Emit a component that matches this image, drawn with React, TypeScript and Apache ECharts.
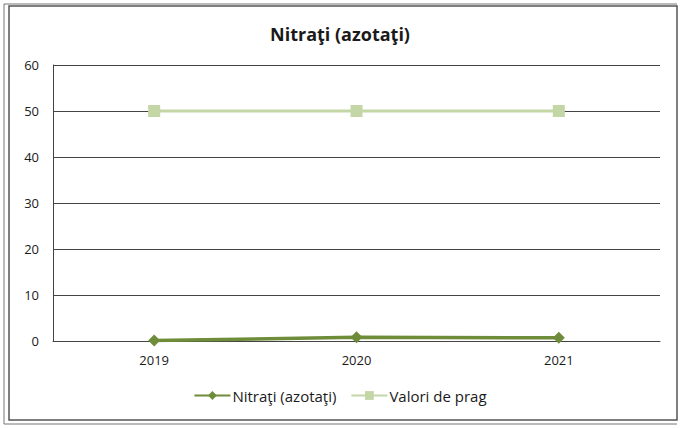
import React, { useEffect, useRef } from "react";
import * as echarts from "echarts";

const categories = ["2019", "2020", "2021"];
const nitrati = [0.1, 0.8, 0.7];
const praguri = [50, 50, 50];
const yTicks = [0, 10, 20, 30, 40, 50, 60];

export default function App() {
  const ref = useRef<HTMLDivElement>(null);
  useEffect(() => {
    const chart = echarts.init(ref.current!, null, { renderer: "svg" });
    const font = "'Open Sans', 'Liberation Sans', sans-serif";
    chart.setOption({
      animation: false,
      backgroundColor: "#ffffff",
      title: {
        text: "Nitraţi (azotaţi)",
        left: "center",
        top: 20,
        textStyle: { fontFamily: font, fontSize: 18, fontWeight: "bold", color: "#1a1a1a" },
      },
      graphic: [
        { type: "rect", shape: { x: 9, y: 6, width: 668, height: 414 }, style: { fill: "none", stroke: "#555", lineWidth: 1.5 } },
        { type: "line", shape: { x1: 4, y1: 4, x2: 4, y2: 424 }, style: { stroke: "#777", lineWidth: 1 } },
        { type: "line", shape: { x1: 4, y1: 4, x2: 677, y2: 4 }, style: { stroke: "#777", lineWidth: 1 } },
        { type: "line", shape: { x1: 4, y1: 424, x2: 677, y2: 424 }, style: { stroke: "#777", lineWidth: 1 } },
      ],
      grid: { left: 53, right: 20, top: 65, bottom: 87, containLabel: false },
      legend: {
        bottom: 20,
        left: "center",
        itemWidth: 36,
        itemHeight: 11,
        itemGap: 14,
        textStyle: { fontFamily: font, fontSize: 15, color: "#1a1a1a", padding: [0, 0, 0, -3] },
        data: ["Nitraţi (azotaţi)", "Valori de prag"],
      },
      xAxis: {
        type: "category",
        data: categories,
        boundaryGap: true,
        axisLine: { lineStyle: { color: "#444", width: 1 } },
        axisTick: { show: false },
        axisLabel: { fontFamily: font, fontSize: 13, color: "#1a1a1a", margin: 12 },
      },
      yAxis: {
        type: "value",
        min: yTicks[0],
        max: yTicks[yTicks.length - 1],
        interval: 10,
        axisLine: { show: true, lineStyle: { color: "#444", width: 1 } },
        axisTick: { show: false },
        splitLine: { lineStyle: { color: "#444", width: 1 } },
        axisLabel: { fontFamily: font, fontSize: 13, color: "#1a1a1a", margin: 14 },
      },
      series: [
        {
          name: "Valori de prag",
          type: "line",
          data: praguri,
          symbol: "rect",
          symbolSize: 12,
          lineStyle: { color: "#c4d6a6", width: 3 },
          itemStyle: { color: "#c4d6a6" },
          z: 2,
        },
        {
          name: "Nitraţi (azotaţi)",
          type: "line",
          data: nitrati,
          symbol: "diamond",
          symbolSize: 12,
          lineStyle: { color: "#6f8c3a", width: 3.5 },
          itemStyle: { color: "#6f8c3a" },
          z: 3,
        },
      ],
    });
    return () => chart.dispose();
  }, []);
  return <div ref={ref} style={{ position: "fixed", left: 0, top: 0, width: 680, height: 428 }} />;
}
